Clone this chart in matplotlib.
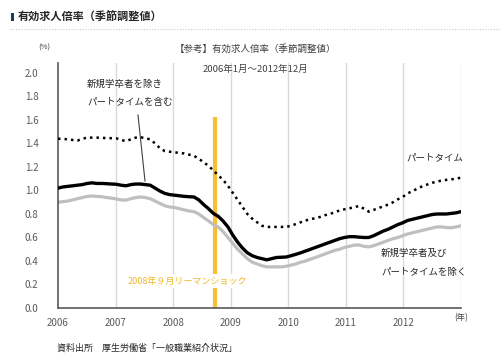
import matplotlib
matplotlib.use("Agg")
import matplotlib.pyplot as plt
from matplotlib.patches import Rectangle
import numpy as np

plt.rcParams['font.family'] = ['Noto Sans CJK JP', 'DejaVu Sans']

years = [2006, 2007, 2008, 2009, 2010, 2011, 2012]
year_labels = ['2006', '2007', '2008', '2009', '2010', '2011', '2012']
yticks = [0.0, 0.2, 0.4, 0.6, 0.8, 1.0, 1.2, 1.4, 1.6, 1.8, 2.0]

# 新規学卒者を除きパートタイムを含む (monthly, 2006/1 - 2012/12)
total = [1.02, 1.03, 1.035, 1.04, 1.045, 1.05, 1.06, 1.065, 1.06, 1.06, 1.058, 1.055,
         1.053, 1.045, 1.04, 1.05, 1.055, 1.055, 1.05, 1.045, 1.02, 0.995, 0.975, 0.965,
         0.96, 0.955, 0.95, 0.947, 0.945, 0.92, 0.88, 0.845, 0.805, 0.78, 0.74, 0.69,
         0.62, 0.56, 0.51, 0.47, 0.445, 0.43, 0.42, 0.41, 0.42, 0.43, 0.432, 0.434,
         0.445, 0.457, 0.47, 0.485, 0.50, 0.515, 0.53, 0.545, 0.56, 0.575, 0.59, 0.60,
         0.607, 0.607, 0.603, 0.60, 0.60, 0.615, 0.635, 0.655, 0.67, 0.69, 0.71, 0.725,
         0.745, 0.755, 0.765, 0.775, 0.785, 0.795, 0.80, 0.80, 0.80, 0.805, 0.81, 0.82]

# パートタイム
parttime = [1.44, 1.44, 1.435, 1.43, 1.425, 1.44, 1.45, 1.45, 1.45, 1.448, 1.446, 1.445,
            1.444, 1.43, 1.42, 1.435, 1.45, 1.453, 1.445, 1.435, 1.40, 1.36, 1.335, 1.33,
            1.325, 1.32, 1.315, 1.305, 1.295, 1.27, 1.24, 1.21, 1.17, 1.13, 1.09, 1.04,
            0.98, 0.92, 0.86, 0.80, 0.76, 0.73, 0.70, 0.69, 0.69, 0.69, 0.69, 0.69,
            0.70, 0.715, 0.73, 0.745, 0.755, 0.765, 0.775, 0.79, 0.80, 0.815, 0.83, 0.84,
            0.848, 0.858, 0.868, 0.845, 0.82, 0.835, 0.85, 0.865, 0.88, 0.90, 0.925, 0.945,
            0.975, 0.995, 1.015, 1.035, 1.05, 1.065, 1.075, 1.085, 1.09, 1.095, 1.10, 1.11]

# 新規学卒者及びパートタイムを除く
excl = [0.90, 0.905, 0.91, 0.92, 0.93, 0.94, 0.95, 0.953, 0.95, 0.947, 0.94, 0.935,
        0.928, 0.92, 0.918, 0.93, 0.94, 0.945, 0.94, 0.93, 0.91, 0.89, 0.87, 0.86,
        0.855, 0.845, 0.835, 0.826, 0.82, 0.80, 0.77, 0.74, 0.71, 0.69, 0.65, 0.60,
        0.55, 0.50, 0.46, 0.42, 0.39, 0.375, 0.36, 0.35, 0.35, 0.35, 0.35, 0.355,
        0.365, 0.375, 0.39, 0.40, 0.415, 0.43, 0.445, 0.46, 0.475, 0.49, 0.50, 0.515,
        0.525, 0.535, 0.536, 0.525, 0.52, 0.53, 0.545, 0.56, 0.575, 0.59, 0.60, 0.615,
        0.63, 0.64, 0.65, 0.66, 0.67, 0.68, 0.69, 0.69, 0.685, 0.683, 0.69, 0.70]

lehman_x = 2008.72
lehman_top = 1.61

W, H = 500, 364
fig = plt.figure(figsize=(W / 100, H / 100), dpi=100)

def fx(x):
    return x / W

def fy(y):
    return 1 - y / H

ax = fig.add_axes([fx(58), fy(308), fx(461) - fx(58), fy(63) - fy(308)])
n = len(total)
xs = 2006 + np.arange(n) * 7 / (n - 1)

ax.set_xlim(2006, 2013)
ax.set_ylim(0, 2.085)

for yv in years[1:] + [2013]:
    ax.axvline(yv, color='#d9d9d9', lw=1.0, zorder=0)

ax.plot(xs, excl, color='#bfbfbf', lw=2.3, solid_capstyle='round', zorder=2)
ax.plot(xs, total, color='#000000', lw=2.4, zorder=3)
ax.plot(xs, parttime, color='#000000', lw=1.8, linestyle=(0, (1, 1.6)), zorder=3)

ax.plot([lehman_x, lehman_x], [0, lehman_top], color='#f5c034', lw=3, zorder=1)

for s in ['top', 'right']:
    ax.spines[s].set_visible(False)
for s in ['left', 'bottom']:
    ax.spines[s].set_color('#595959')
    ax.spines[s].set_linewidth(1.2)

ax.set_yticks(yticks)
ax.set_yticklabels([f'{v:.1f}' for v in yticks])
ax.set_xticks(years)
ax.set_xticklabels(year_labels)
ax.tick_params(axis='both', length=0, labelsize=7, colors='#595959')
ax.tick_params(axis='y', pad=14)
ax.tick_params(axis='x', pad=7)

# leader line
fig.add_artist(plt.Line2D([fx(138), fx(145)], [fy(115), fy(181)], color='#404040', lw=0.8))

tc = '#404040'
fig.add_artist(Rectangle((fx(11), fy(21)), fx(3), fy(13) - fy(21), facecolor='#1f3864',
                         edgecolor='none'))
fig.text(fx(18), fy(17), '有効求人倍率（季節調整値）', fontsize=8, fontweight='bold',
         color='#262626', va='center', ha='left')
fig.add_artist(plt.Line2D([fx(10), fx(500)], [fy(29), fy(29)], color='#c8c8c8', lw=0.8,
                          linestyle=(0, (1, 1.5))))
fig.text(fx(44), fy(48), '(%)', fontsize=5.5, color=tc, ha='center', va='center')
fig.text(fx(255), fy(49), '【参考】有効求人倍率（季節調整値）', fontsize=6.8, color=tc,
         ha='center', va='center')
fig.text(fx(255), fy(69), '2006年1月～2012年12月', fontsize=6.8, color=tc,
         ha='center', va='center')
fig.text(fx(87), fy(84), '新規学卒者を除き', fontsize=6.8, color='#262626', va='center')
fig.text(fx(87), fy(103), 'パートタイムを含む', fontsize=6.8, color='#262626', va='center')
fig.text(fx(406), fy(158), 'パートタイム', fontsize=6.8, color='#262626', va='center')
fig.text(fx(381), fy(253), '新規学卒者及び', fontsize=6.8, color='#262626', va='center')
fig.text(fx(381), fy(272), 'パートタイムを除く', fontsize=6.8, color='#262626', va='center')
fig.text(fx(187), fy(281), '2008年９月リーマンショック', fontsize=6.5, color='#f0b92a',
         ha='center', va='center',
         bbox=dict(facecolor='white', edgecolor='none', pad=1.5))
fig.text(fx(461), fy(318), '(年)', fontsize=6, color=tc, ha='center', va='center')
fig.text(fx(57), fy(348), '資料出所　厚生労働省「一般職業紹介状況」', fontsize=6.5,
         color='#262626', va='center')

fig.savefig('out.png', dpi=100)
